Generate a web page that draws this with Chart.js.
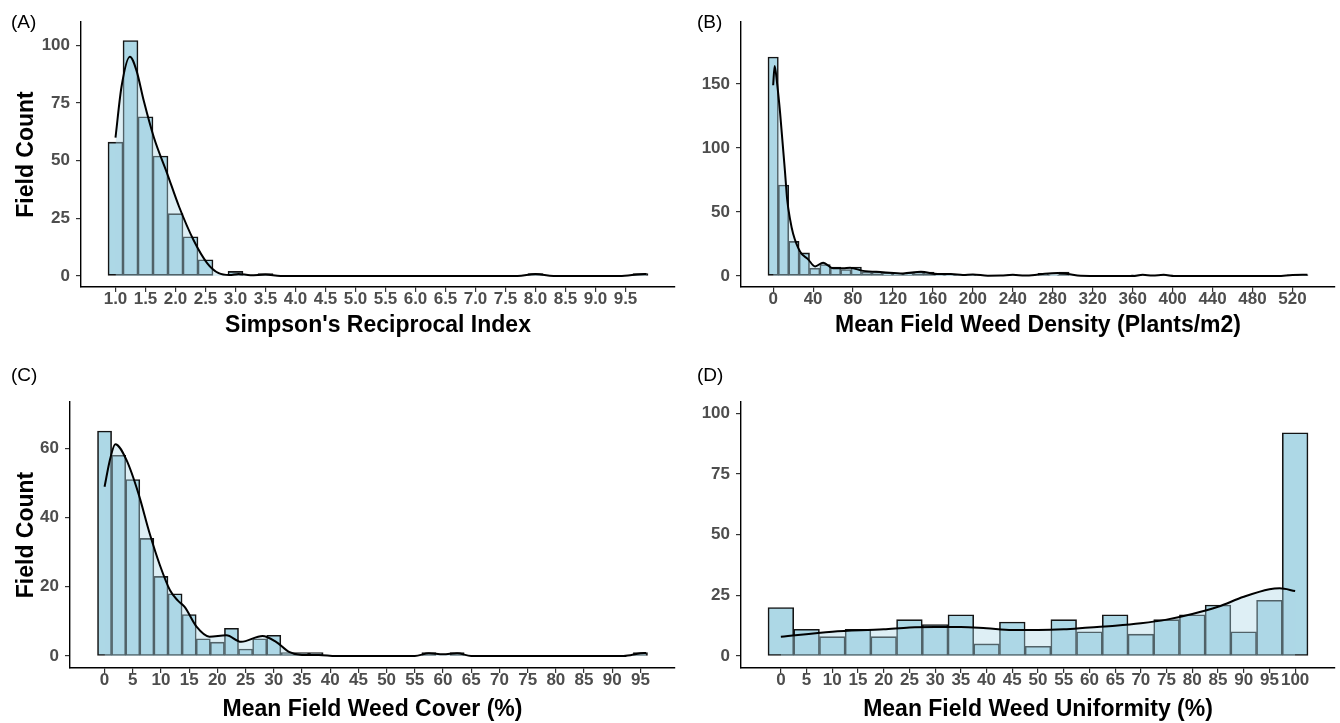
<!DOCTYPE html>
<html>
<head>
<meta charset="utf-8">
<script src="https://cdn.jsdelivr.net/npm/chart.js"></script>
<style>
  body { margin: 0; background: #fff; font-family: "Liberation Sans", Arial, sans-serif; }
  #wrap { position: relative; width: 1340px; height: 723px; }
  canvas { position: absolute; }
  .tag { position: absolute; font-size: 19px; line-height: 1; color: #000; }
</style>
</head>
<body>
<div id="wrap">
  <canvas id="cA" width="680" height="360" style="left:0;top:0"></canvas>
  <canvas id="cB" width="660" height="360" style="left:680px;top:0"></canvas>
  <canvas id="cC" width="680" height="363" style="left:0;top:360px"></canvas>
  <canvas id="cD" width="660" height="363" style="left:680px;top:360px"></canvas>
  <div class="tag" style="left:11px;top:12px">(A)</div>
  <div class="tag" style="left:697px;top:12px">(B)</div>
  <div class="tag" style="left:11px;top:365px">(C)</div>
  <div class="tag" style="left:697px;top:365px">(D)</div>
</div>

<script>
// ---- (A) Simpson's reciprocal index ----
const binsA = [1.0, 1.25, 1.5, 1.75, 2.0, 2.25, 2.5, 2.75, 3.0, 3.25, 3.5, 3.75, 4.0, 4.25, 4.5, 4.75, 5.0, 5.25,
  5.5, 5.75, 6.0, 6.25, 6.5, 6.75, 7.0, 7.25, 7.5, 7.75, 8.0, 8.25, 8.5, 8.75, 9.0, 9.25, 9.5, 9.75];
const countsA = [58, 102, 69, 52, 27, 17, 7, 0, 2, 0, 1, 0, 0, 0, 0, 0, 0, 0,
  0, 0, 0, 0, 0, 0, 0, 0, 0, 0, 1, 0, 0, 0, 0, 0, 0, 1];
const densXA = [1.0, 1.1, 1.24, 1.35, 1.47, 1.64, 1.86, 2.06, 2.3, 2.53, 2.72, 2.9, 3.05, 3.25, 3.5, 3.75, 7.7, 8.0, 8.3, 9.4, 9.75, 9.85];
const densYA = [60, 82, 95, 89, 76, 60, 44.5, 30, 15.6, 5.5, 1.2, 0.4, 0.9, 0.3, 0.6, 0, 0, 0.9, 0, 0, 0.8, 0.9];
const xTicksA = [1.0, 1.5, 2.0, 2.5, 3.0, 3.5, 4.0, 4.5, 5.0, 5.5, 6.0, 6.5, 7.0, 7.5, 8.0, 8.5, 9.0, 9.5];
const xLabelsA = ['1.0', '1.5', '2.0', '2.5', '3.0', '3.5', '4.0', '4.5', '5.0', '5.5', '6.0', '6.5', '7.0', '7.5', '8.0', '8.5', '9.0', '9.5'];
const yTicksA = [0, 25, 50, 75, 100];

// ---- (B) weed density ----
const binsB = [0, 10.4, 20.8, 31.2, 41.6, 52, 62.4, 72.8, 83.2, 93.6, 104, 114.4, 124.8, 135.2, 145.6, 156, 166.4,
  176.8, 187.2, 197.6, 208, 218.4, 228.8, 239.2, 249.6, 260, 270.4, 280.8, 291.2, 301.6, 312, 322.4, 332.8, 343.2,
  353.6, 364, 374.4, 384.8, 395.2, 405.6, 416, 426.4, 436.8, 447.2, 457.6, 468, 478.4, 488.8, 499.2, 509.6, 520, 530.4];
const countsB = [171, 71, 27, 18, 6, 9, 7, 5, 7, 3, 3, 2, 2, 2, 3, 3, 1,
  1, 1, 1, 0, 0, 0, 1, 0, 0, 2, 1, 3, 0, 0, 0, 0, 0,
  0, 1, 0, 0, 1, 0, 0, 0, 0, 0, 0, 0, 0, 0, 0, 0, 1, 1];
const densXB = [0, 1.5, 4, 7, 12, 14, 17, 20, 27, 35, 42, 50, 60, 70, 77, 90, 110, 130, 148, 165,
  178, 190, 200, 215, 228, 240, 252, 262, 272, 285, 295, 308, 330, 360, 370, 380, 391, 402, 430, 505, 520, 535];
const densYB = [149, 164, 150, 127, 80, 60, 44, 33, 19, 13, 7.5, 10.4, 6, 6, 6.5, 4, 3, 2, 3.3, 1.5,
  1.5, 0.8, 1.2, 0.2, 0.3, 0.9, 0.3, 0.8, 1.8, 2.4, 1.6, 0.2, 0, 0, 0.9, 0.4, 0.9, 0, 0, 0, 0.8, 1];
const xTicksB = [0, 40, 80, 120, 160, 200, 240, 280, 320, 360, 400, 440, 480, 520];
const xLabelsB = ['0', '40', '80', '120', '160', '200', '240', '280', '320', '360', '400', '440', '480', '520'];
const yTicksB = [0, 50, 100, 150];

// ---- (C) weed cover ----
const binsC = [0, 2.5, 5, 7.5, 10, 12.5, 15, 17.5, 20, 22.5, 25, 27.5, 30, 32.5, 35, 37.5, 40, 42.5, 45, 47.5,
  50, 52.5, 55, 57.5, 60, 62.5, 65, 67.5, 70, 72.5, 75, 77.5, 80, 82.5, 85, 87.5, 90, 92.5, 95];
const countsC = [65, 58, 51, 34, 23, 18, 12, 5, 4, 8, 2, 5, 6, 1, 1, 1, 0, 0, 0, 0,
  0, 0, 0, 1, 0, 1, 0, 0, 0, 0, 0, 0, 0, 0, 0, 0, 0, 0, 1];
const densXC = [0, 1, 1.9, 3.9, 6, 8, 9.8, 11.6, 13, 14.2, 16.3, 18.6, 21.6, 24.2, 28, 30.4, 32.7, 35, 38, 41,
  55, 57.5, 60, 62.5, 65, 92, 95, 96];
const densYC = [48.9, 57, 61.2, 56.6, 47, 35.4, 26.3, 19, 16, 14.2, 8.5, 5.6, 6, 4.1, 5.8, 4.1, 1.2, 0.3, 0.3, 0,
  0, 0.8, 0.5, 0.8, 0, 0, 0.8, 0.9];
const xTicksC = [0, 5, 10, 15, 20, 25, 30, 35, 40, 45, 50, 55, 60, 65, 70, 75, 80, 85, 90, 95];
const xLabelsC = ['0', '5', '10', '15', '20', '25', '30', '35', '40', '45', '50', '55', '60', '65', '70', '75', '80', '85', '90', '95'];
const yTicksC = [0, 20, 40, 60];

// ---- (D) weed uniformity ----
const binsD = [0, 5, 10, 15, 20, 25, 30, 35, 40, 45, 50, 55, 60, 65, 70, 75, 80, 85, 90, 95, 100];
const countsD = [20, 11, 8, 11, 8, 15, 13, 17, 5, 14, 4, 15, 10, 17, 9, 15, 17, 21, 10, 23, 92];
const densXD = [0, 10, 20, 25, 30, 35, 40, 45, 50, 55, 60, 65, 70, 75, 80, 85, 90, 95, 97, 100];
const densYD = [7.9, 10, 11, 11.8, 12, 12, 11.4, 10.7, 10.7, 11, 11.8, 12.5, 13.5, 15, 17.3, 20.3, 24.4, 27.5, 27.9, 26.8];
const xTicksD = [0, 5, 10, 15, 20, 25, 30, 35, 40, 45, 50, 55, 60, 65, 70, 75, 80, 85, 90, 95, 100];
const xLabelsD = ['0', '5', '10', '15', '20', '25', '30', '35', '40', '45', '50', '55', '60', '65', '70', '75', '80', '85', '90', '95', '100'];
const yTicksD = [0, 25, 50, 75, 100];

Chart.defaults.font.family = '"Liberation Sans", Arial, sans-serif';
Chart.defaults.animation = false;

function panel(id, o) {
  new Chart(document.getElementById(id), {
    type: 'bar',
    data: {
      datasets: [
        {
          type: 'line',
          data: o.dx.map((x, i) => ({ x: x, y: o.dy[i] })),
          borderColor: '#000',
          borderWidth: 2,
          pointRadius: 0,
          fill: 'origin',
          backgroundColor: 'rgba(173,216,230,0.4)',
          cubicInterpolationMode: 'monotone',
          order: 0
        },
        {
          type: 'bar',
          data: o.bins.map((x, i) => ({ x: x, y: o.counts[i] })),
          backgroundColor: '#add8e6',
          borderColor: '#141414',
          borderWidth: 1.6,
          borderSkipped: false,
          barPercentage: 1,
          categoryPercentage: 1,
          order: 1
        }
      ]
    },
    options: {
      responsive: false,
      devicePixelRatio: 1,
      layout: { padding: { top: o.top, right: 5, left: 0, bottom: 0 } },
      plugins: { legend: { display: false }, tooltip: { enabled: false } },
      scales: {
        x: {
          type: 'linear',
          offset: false,
          min: o.xMin, max: o.xMax,
          afterBuildTicks: s => { s.ticks = o.xt.map(v => ({ value: v })); },
          afterFit: s => { s.height = o.xh; },
          ticks: {
            autoSkip: false, maxRotation: 0, minRotation: 0, padding: -3,
            color: '#4d4d4d', font: { size: 17, weight: 'bold' },
            callback: (v, i) => o.xl[i]
          },
          grid: { display: true, offset: false, drawOnChartArea: false, drawTicks: true, tickLength: 5, color: '#333', lineWidth: 1.2 },
          border: { display: true, color: '#000', width: 1.4 },
          title: {
            display: true, text: o.xTitle, color: '#000',
            font: { size: 23, weight: 'bold', lineHeight: 1 },
            padding: { top: 0, bottom: o.xtp }
          }
        },
        y: {
          type: 'linear',
          min: o.yMin, max: o.yMax,
          afterBuildTicks: s => { s.ticks = o.yt.map(v => ({ value: v })); },
          afterFit: s => { s.width = o.yw; },
          ticks: { padding: 6, color: '#4d4d4d', font: { size: 17, weight: 'bold' } },
          grid: { display: true, drawOnChartArea: false, drawTicks: true, tickLength: 5, color: '#333', lineWidth: 1.2 },
          border: { display: true, color: '#000', width: 1.4 },
          title: {
            display: !!o.yTitle, text: o.yTitle || '', color: '#000',
            font: { size: 23, weight: 'bold', lineHeight: 1 },
            padding: { top: 15.5, bottom: 0 }
          }
        }
      }
    }
  });
}

panel('cA', {
  bins: binsA, counts: countsA, dx: densXA, dy: densYA,
  xt: xTicksA, xl: xLabelsA, yt: yTicksA,
  xMin: 0.425, xMax: 10.325, yMin: -4.77, yMax: 110.05,
  top: 22, xh: 73, yw: 81, xtp: 22.5,
  xTitle: "Simpson's Reciprocal Index", yTitle: 'Field Count'
});
panel('cB', {
  bins: binsB, counts: countsB, dx: densXB, dy: densYB,
  xt: xTicksB, xl: xLabelsB, yt: yTicksB,
  xMin: -32.2, xMax: 562.6, yMin: -8.6, yMax: 198.4,
  top: 22, xh: 73, yw: 61, xtp: 22.5,
  xTitle: 'Mean Field Weed Density (Plants/m2)'
});
panel('cC', {
  bins: binsC, counts: countsC, dx: densXC, dy: densYC,
  xt: xTicksC, xl: xLabelsC, yt: yTicksC,
  xMin: -6.125, xMax: 101.125, yMin: -3.46, yMax: 73.4,
  top: 42, xh: 55, yw: 70, xtp: 1.5,
  xTitle: 'Mean Field Weed Cover (%)', yTitle: 'Field Count'
});
panel('cD', {
  bins: binsD, counts: countsD, dx: densXD, dy: densYD,
  xt: xTicksD, xl: xLabelsD, yt: yTicksD,
  xMin: -7.75, xMax: 107.75, yMin: -4.94, yMax: 104.7,
  top: 42, xh: 55, yw: 61, xtp: 1.5,
  xTitle: 'Mean Field Weed Uniformity (%)'
});
</script>
</body>
</html>
